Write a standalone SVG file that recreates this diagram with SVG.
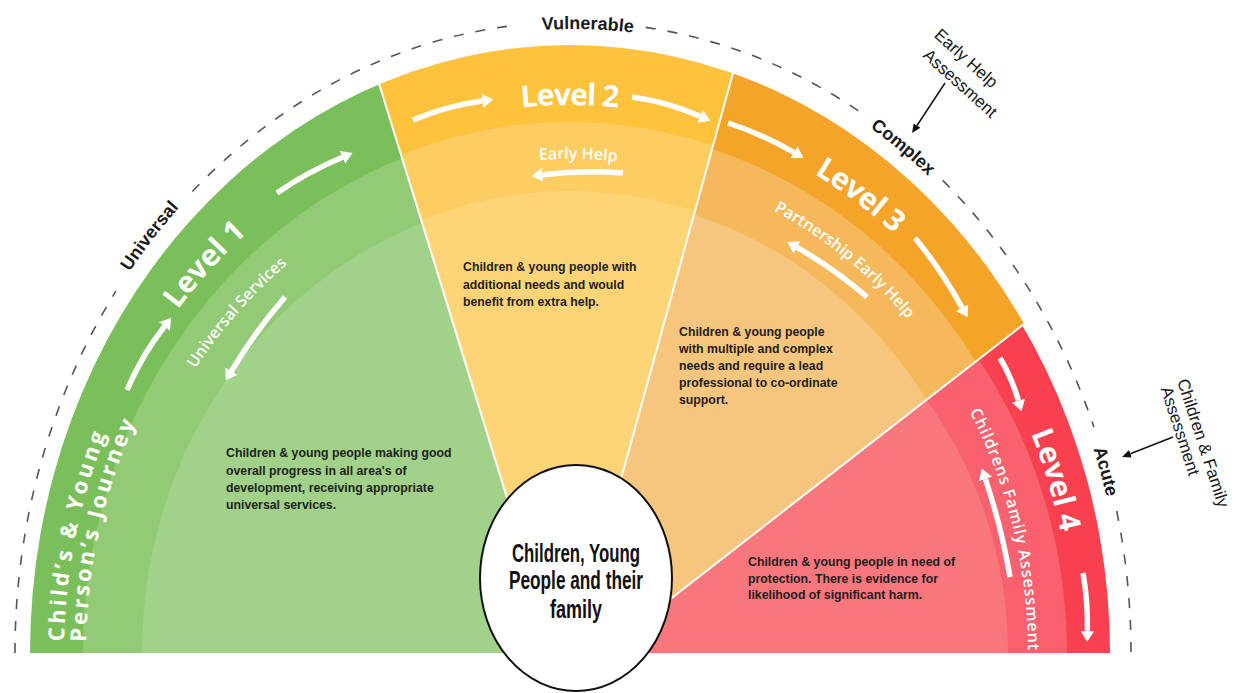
<svg xmlns="http://www.w3.org/2000/svg" width="1236" height="693" viewBox="0 0 1236 693">
<defs>
<clipPath id="cpG"><polygon points="-50,-100 322,-100 555,653 -50,653"/></clipPath>
<clipPath id="cpY"><polygon points="322,-100 781,-100 573,653 555,653"/></clipPath>
<clipPath id="cpO"><polygon points="781,-100 1400,-100 1400,31 601,653 573,653"/></clipPath>
<clipPath id="cpR"><polygon points="1400,31 1400,653 601,653"/></clipPath>
<clipPath id="cpOuter"><ellipse cx="570" cy="653" rx="540" ry="608"/></clipPath>
<marker id="wh" viewBox="0 0 11 14" refX="0" refY="7" markerWidth="11" markerHeight="14" markerUnits="userSpaceOnUse" orient="auto"><path d="M0,0 L11,7 L0,14 z" fill="#fff"/></marker>
<marker id="bk" viewBox="0 0 9 8" refX="0" refY="4" markerWidth="9" markerHeight="8" markerUnits="userSpaceOnUse" orient="auto"><path d="M0,0 L9,4 L0,8 z" fill="#111"/></marker>
<path id="pL1" d="M84.1,511.2 A503,548 0 0 1 439.8,123.7"/>
<path id="pL2" d="M318.5,178.4 A503,548 0 0 1 821.5,178.4"/>
<path id="pL3" d="M605.1,106.3 A503,548 0 0 1 1022.1,412.8"/>
<path id="pL4" d="M903.3,242.5 A503,548 0 0 1 1062.9,762.3"/>
<path id="pS1" d="M125.6,533.5 A458,494 0 0 1 443.8,178.1"/>
<path id="pS2" d="M348.0,220.9 A458,494 0 0 1 805.9,229.5"/>
<path id="pS3" d="M621.8,162.2 A458,494 0 0 1 990.0,456.0"/>
<path id="pS4" d="M893.9,303.7 A458,494 0 0 1 1012.4,780.9"/>
<path id="pJ1" d="M64.1,643.4 A506,548 0 0 1 244.7,233.2"/>
<path id="pJ2" d="M86.1,643.9 A484,524 0 0 1 258.9,251.6"/>
<path id="pZ1" d="M54.8,422.1 A557,630 0 0 1 307.2,99.4"/>
<path id="pZ2" d="M398.2,61.3 A551,624 0 0 1 774.9,72.4"/>
<path id="pZ3" d="M724.9,53.2 A551,624 0 0 1 1029.8,304.1"/>
<path id="pZ4" d="M1013.0,277.5 A551,624 0 0 1 1123.2,685.6"/>
</defs>
<style>
.lvl{font-family:"Open Sans","DejaVu Sans",sans-serif;font-weight:700;font-size:30px;fill:#fff}
.sub{font-family:"Open Sans","DejaVu Sans",sans-serif;font-weight:600;font-size:16px;fill:#fff}
.jr{font-family:"Open Sans","DejaVu Sans",sans-serif;font-weight:700;font-size:22px;fill:#fff}
.zone{font-family:"Liberation Sans",Arial,sans-serif;font-weight:700;font-size:18px;fill:#1a1a1a}
.ann{font-family:"Liberation Sans",Arial,sans-serif;font-size:17px;fill:#1a1a1a}
.desc{font-family:"Liberation Sans",Arial,sans-serif;font-weight:700;font-size:12.3px;fill:#1e1e1e}
.ctr{font-family:"Liberation Sans",Arial,sans-serif;font-weight:700;font-size:25px;fill:#111}
.wa{fill:none;stroke:#fff;stroke-width:5.5;marker-end:url(#wh)}
.ba{fill:none;stroke:#111;stroke-width:1.5;marker-end:url(#bk)}
.dash{fill:none;stroke:#555;stroke-width:1.6;stroke-dasharray:10 12}
.sep{stroke:#fff;stroke-width:2}
</style>
<rect width="1236" height="693" fill="#fff"/>

<g id="level1">
<g clip-path="url(#cpG)">
<ellipse cx="570" cy="653" rx="540" ry="608" fill="#7bbf5a"/>
<ellipse cx="570" cy="653" rx="487" ry="527" fill="#93ca76"/>
<ellipse cx="570" cy="653" rx="428" ry="458" fill="#a2d28a"/>
</g>
<text class="lvl"><textPath href="#pL1" startOffset="50%" text-anchor="middle">Level 1</textPath></text>
<text class="sub"><textPath href="#pS1" startOffset="50%" text-anchor="middle">Universal Services</textPath></text>
<text class="jr"><textPath href="#pJ1" startOffset="2" textLength="212">Child’s &amp; Young</textPath></text>
<text class="jr"><textPath href="#pJ2" startOffset="2" textLength="226">Person’s Journey</textPath></text>
<text class="desc"><tspan x="226" y="457">Children &amp; young people making good</tspan><tspan x="226" y="475">overall progress in all area's of</tspan><tspan x="226" y="492">development, receiving appropriate</tspan><tspan x="226" y="509">universal services.</tspan></text>
</g>

<g id="level2">
<g clip-path="url(#cpY)">
<ellipse cx="570" cy="653" rx="540" ry="608" fill="#fec23c"/>
<ellipse cx="570" cy="653" rx="487" ry="531" fill="#fecd62"/>
<ellipse cx="570" cy="653" rx="428" ry="462" fill="#fdd577"/>
</g>
<text class="lvl"><textPath href="#pL2" startOffset="50%" text-anchor="middle" textLength="97">Level 2</textPath></text>
<text class="sub"><textPath href="#pS2" startOffset="50%" text-anchor="middle">Early Help</textPath></text>
<text class="desc"><tspan x="463" y="271">Children &amp; young people with</tspan><tspan x="463" y="289">additional needs and would</tspan><tspan x="463" y="306">benefit from extra help.</tspan></text>
</g>

<g id="level3">
<g clip-path="url(#cpO)">
<ellipse cx="570" cy="653" rx="540" ry="608" fill="#f4a429"/>
<ellipse cx="570" cy="653" rx="487" ry="527" fill="#f5b85b"/>
<ellipse cx="570" cy="653" rx="428" ry="458" fill="#f6c57e"/>
</g>
<text class="lvl"><textPath href="#pL3" startOffset="50%" text-anchor="middle" textLength="100">Level 3</textPath></text>
<text class="sub"><textPath href="#pS3" startOffset="50%" text-anchor="middle">Partnership Early Help</textPath></text>
<text class="desc"><tspan x="679" y="336">Children &amp; young people</tspan><tspan x="679" y="353">with multiple and complex</tspan><tspan x="679" y="370">needs and require a lead</tspan><tspan x="679" y="387">professional to co-ordinate</tspan><tspan x="679" y="404">support.</tspan></text>
</g>

<g id="level4">
<g clip-path="url(#cpR)">
<ellipse cx="570" cy="653" rx="540" ry="600" fill="#f8404e"/>
<ellipse cx="570" cy="653" rx="497" ry="516" fill="#f8616d"/>
<ellipse cx="570" cy="653" rx="438" ry="436" fill="#f8777d"/>
</g>
<text class="lvl"><textPath href="#pL4" startOffset="50%" text-anchor="middle">Level 4</textPath></text>
<text class="sub"><textPath href="#pS4" startOffset="50%" text-anchor="middle" textLength="248">Childrens Family Assessment</textPath></text>
<text class="desc"><tspan x="748" y="566">Children &amp; young people in need of</tspan><tspan x="748" y="582.5">protection. There is evidence for</tspan><tspan x="748" y="599">likelihood of significant harm.</tspan></text>
</g>

<g id="separators" clip-path="url(#cpOuter)">
<line class="sep" x1="360" y1="22" x2="555" y2="653"/>
<line class="sep" x1="751" y1="8" x2="573" y2="653"/>
<line class="sep" x1="1060" y1="296" x2="601" y2="653"/>
</g>

<g id="zones">
<path class="dash" d="M15,653 A558,631 0 0 1 115.9,291.1"/>
<path class="dash" d="M192.4,191.5 A558,631 0 0 1 509.8,26.0"/>
<path class="dash" d="M645.8,27.4 A558,631 0 0 1 860.4,112.1"/>
<path class="dash" d="M942.7,180.4 A558,631 0 0 1 1093.9,426.9"/>
<path class="dash" d="M1116.7,511.0 A558,631 0 0 1 1131,653"/>
<text class="zone"><textPath href="#pZ1" startOffset="50%" text-anchor="middle">Universal</textPath></text>
<text class="zone"><textPath href="#pZ2" startOffset="50%" text-anchor="middle">Vulnerable</textPath></text>
<text class="zone"><textPath href="#pZ3" startOffset="50%" text-anchor="middle">Complex</textPath></text>
<text class="zone"><textPath href="#pZ4" startOffset="50%" text-anchor="middle">Acute</textPath></text>
</g>

<g id="early-help-assessment">
<text class="ann" text-anchor="middle" dominant-baseline="central" transform="translate(966,58.5) rotate(42)">Early Help</text>
<text class="ann" text-anchor="middle" dominant-baseline="central" transform="translate(960,83.5) rotate(42)">Assessment</text>
</g>
<g id="children-family-assessment">
<text class="ann" text-anchor="middle" dominant-baseline="central" transform="translate(1203,443) rotate(72)">Children &amp; Family</text>
<text class="ann" text-anchor="middle" dominant-baseline="central" transform="translate(1180,431) rotate(72)">Assessment</text>
</g>

<g id="center">
<ellipse cx="576" cy="578" rx="96" ry="113" fill="#fff" stroke="#111" stroke-width="2"/>
<text class="ctr" text-anchor="middle"><tspan x="576" y="562" textLength="128" lengthAdjust="spacingAndGlyphs">Children, Young</tspan></text>
<text class="ctr" text-anchor="middle"><tspan x="576" y="589" textLength="134" lengthAdjust="spacingAndGlyphs">People and their</tspan></text>
<text class="ctr" text-anchor="middle"><tspan x="576" y="618" textLength="52" lengthAdjust="spacingAndGlyphs">family</tspan></text>
</g>

<g id="connectors">
<path class="wa" d="M127,390 Q141.6,355.6 164.4,326.5"/>
<path class="wa" d="M277,193 Q307.8,171.7 342.4,157.3"/>
<path class="wa" d="M285,297 Q255.4,331.2 231.4,371.1"/>
<path class="wa" d="M413,120 Q446.6,105.6 482.4,100.9"/>
<path class="wa" d="M632,97 Q666.8,101.6 700.1,116.3"/>
<path class="wa" d="M623,173 Q583.1,170 542.7,174.8"/>
<path class="wa" d="M728,123 Q762.5,134.1 793.9,152.3"/>
<path class="wa" d="M915,238 Q941.4,270.1 962.1,307.6"/>
<path class="wa" d="M867,297 Q834.2,268.7 797,247.4"/>
<path class="wa" d="M1000,358 Q1011.7,377.7 1018.4,400.6"/>
<path class="wa" d="M1083,573 Q1088,601.7 1087.4,630.7"/>
<path class="wa" d="M1010,577 Q1001.5,527.1 985.4,479"/>
<path class="ba" d="M945,83 L917,125.5"/>
<path class="ba" d="M1173,437 L1130.4,453.7"/>
</g>
</svg>
